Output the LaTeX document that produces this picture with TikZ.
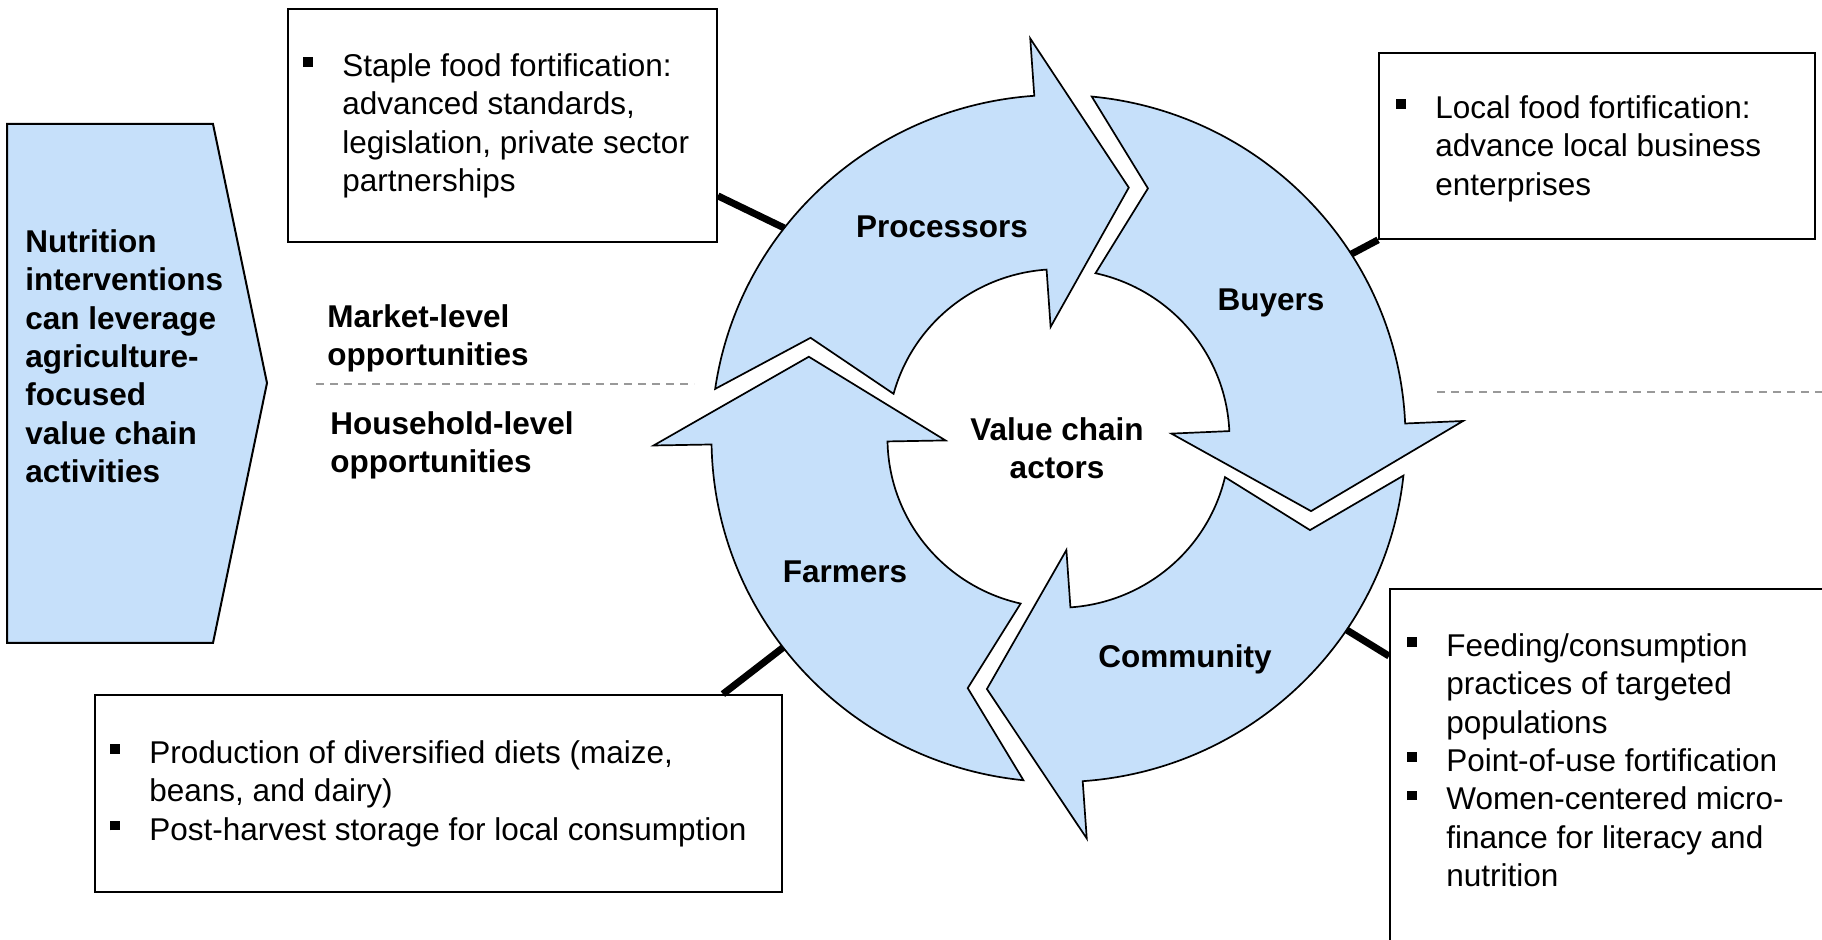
\documentclass[tikz,border=0pt]{standalone}
\usepackage{fontspec}
\setmainfont{Liberation Sans}
\usetikzlibrary{fit,calc}
\definecolor{cycblue}{RGB}{198,224,250}
\newcommand{\sqbul}{\makebox[19.5pt][l]{\rule[4.8pt]{4.8pt}{4.8pt}}}
\newcommand{\ind}{\hspace*{19.5pt}}

\tikzset{
  cyc/.style={fill=cycblue, draw=black, line width=0.85pt},
  box/.style={draw=black, fill=white, line width=0.9pt, inner sep=0pt},
  link/.style={draw=black, line width=3.5pt},
  sep/.style={draw=gray!80, line width=0.8pt, dash pattern=on 4pt off 3pt},
  txt/.style={inner sep=0pt, align=left, anchor=north west, font=\fontsize{15.75}{19.2}\selectfont},
  btxt/.style={txt, font=\fontsize{15.75}{19.2}\selectfont\bfseries},
  lbl/.style={inner sep=0pt, align=center, font=\fontsize{15.75}{19.2}\selectfont\bfseries},
}

\begin{document}
\begin{tikzpicture}[x=0.5pt, y=0.5pt]
  \useasboundingbox (0,0) rectangle (1822,940);
  \clip (0,0) rectangle (1822,940);

  % lead-in arrow on the left
  \draw[cyc, line width=1pt] (7,816) -- (213,816) -- (267,557) -- (213,297) -- (7,297) -- cycle;
  \node[btxt] (lead) at (25,711) {Nutrition\\interventions\\can leverage\\agriculture-\\focused\\value chain\\activities};

  % market / household split
  \draw[sep] (316,556) -- (694,556);
  \draw[sep] (1437,548) -- (1822,548);
  \node[btxt] (market) at (327,636) {Market-level\\opportunities};
  \node[btxt] (household) at (330,529) {Household-level\\opportunities};

  % the cycle
  \coordinate (ctr) at (1058.5,501.5);
  \coordinate (procpt) at ($(ctr)+(142.5:346)$);
  \coordinate (buypt) at ($(ctr)+(32.2:346)$);
  \coordinate (farmpt) at ($(ctr)+(217.2:346)$);
  \coordinate (commpt) at ($(ctr)+(-33.6:346)$);

  \node[box, fit={(288,698) (717,931)}] (tlbox) {};
  \node[box, fit={(1379,701) (1815,887)}] (trbox) {};
  \node[box, fit={(95,48) (782,245)}] (blbox) {};
  \node[box, fit={(1390,-30) (1850,351)}] (brbox) {};

  \draw[link] ($(tlbox.south east)+(0,47)$) -- (procpt);
  \draw[link] (trbox.south west) -- (buypt);
  \draw[link] ($(blbox.north east)+(-60,0)$) -- (farmpt);
  \draw[link] ($(brbox.north west)+(0,-68)$) -- (commpt);

  % rotation / head base / tip / tail notch
  \foreach \rot/\hd/\tp/\nt [evaluate=\nt as \ta using \nt+14,
                             evaluate=\nt as \tb using \nt+7]
      in {0/94/74.5/157.7, -90/92.5/73.8/160.5, -180/94/74.2/159.8, 90/91/71.7/160.2}
    \draw[cyc, shift={(ctr)}, yscale=0.99, rotate=\rot]
      (\ta:347) arc[start angle=\ta, end angle=\hd, radius=347]
      -- (\hd:405) -- (\tp:263) -- (\hd:113) -- (\hd:171)
      arc[start angle=\hd, end angle=\tb, radius=171]
      -- (\nt:268) -- cycle;

  \node[lbl] (proc) at (942,713) {Processors};
  \node[lbl] (buy) at (1271,637) {Buyers};
  \node[lbl] (comm) at (1185,281) {Community};
  \node[lbl] (farm) at (845,368) {Farmers};
  \node[lbl] (actors) at (1057,492) {Value chain\\actors};

  % box texts
  \node[txt] (tltext) at (303,887) {\sqbul Staple food fortification:\\\ind advanced standards,\\\ind legislation, private sector\\\ind partnerships};
  \node[txt] (trtext) at (1396,845) {\sqbul Local food fortification:\\\ind advance local business\\\ind enterprises};
  \node[txt] (bltext) at (110,200) {\sqbul Production of diversified diets (maize,\\\ind beans, and dairy)\\\sqbul Post-harvest storage for local consumption};
  \node[txt] (brtext) at (1407,307) {\sqbul Feeding/consumption\\\ind practices of targeted\\\ind populations\\\sqbul Point-of-use fortification\\\sqbul Women-centered micro-\\\ind finance for literacy and\\\ind nutrition};
\end{tikzpicture}
\end{document}
